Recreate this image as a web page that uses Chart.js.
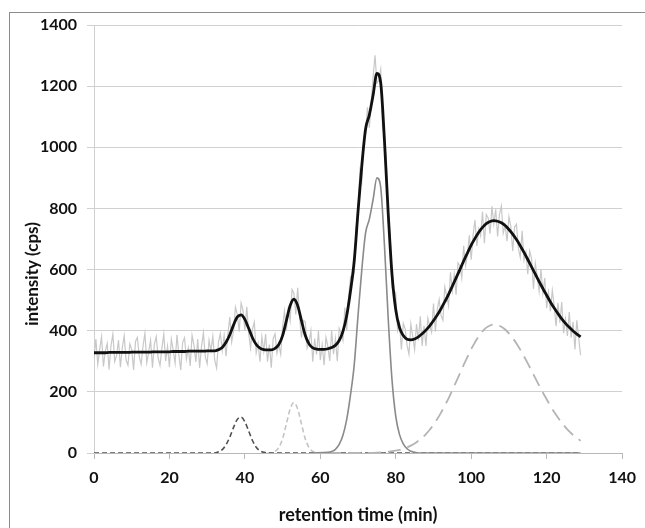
<!DOCTYPE html>
<html>
<head>
<meta charset="utf-8">
<script src="https://cdn.jsdelivr.net/npm/chart.js@4.4.1/dist/chart.umd.min.js"></script>
<style>
  html, body { margin: 0; padding: 0; background: #fff; overflow: hidden; }
  #wrap { position: relative; width: 645px; height: 528px; }
  #frame { position: absolute; left: 9px; top: 12px; width: 700px; height: 600px;
           border-left: 1px solid #8c8c8c; border-top: 1px solid #8c8c8c; }
  canvas { position: absolute; left: 0; top: 0; }
</style>
</head>
<body>
<div id="wrap">
  <div id="frame"></div>
  <canvas id="c" width="645" height="528"></canvas>
</div>
<script>
// ---- data ----
const xTicks = [0, 20, 40, 60, 80, 100, 120, 140];
const yTicks = [0, 200, 400, 600, 800, 1000, 1200, 1400];
const xTitle = "retention time (min)";
const yTitle = "intensity (cps)";

// raw measured signal, one value every 0.5 min from 0 to 129 min
const rawStep = 0.5;
const rawSignal = [
  308, 373, 290, 338, 380, 283, 333, 358, 273, 350, 389, 299, 319, 369, 281, 344, 384, 304, 287, 357,
  338, 272, 365, 378, 315, 290, 350, 392, 295, 330, 369, 279, 356, 381, 311, 286, 343, 389, 301, 349,
  281, 373, 337, 294, 387, 320, 272, 362, 377, 307, 343, 285, 385, 353, 298, 373, 278, 348, 393, 315,
  292, 369, 334, 382, 304, 278, 363, 391, 335, 385, 317, 389, 445, 363, 399, 477, 453, 397, 490, 467,
  402, 478, 393, 343, 405, 428, 327, 359, 299, 380, 333, 389, 299, 355, 279, 374, 390, 326, 355, 323,
  414, 464, 401, 470, 432, 535, 523, 453, 540, 446, 378, 434, 430, 343, 362, 400, 299, 374, 322, 399,
  304, 354, 287, 378, 349, 301, 400, 323, 374, 300, 408, 393, 368, 476, 402, 508, 575, 560, 592, 740,
  790, 923, 890, 1025, 1045, 1131, 1064, 1150, 1231, 1301, 1210, 1219, 1254, 1063, 1043, 954, 759, 720, 540, 532,
  523, 401, 425, 339, 424, 406, 352, 323, 422, 381, 338, 422, 368, 447, 350, 416, 350, 441, 416, 395,
  489, 397, 469, 502, 450, 434, 543, 515, 481, 591, 531, 585, 518, 622, 612, 572, 678, 613, 649, 712,
  632, 713, 762, 677, 732, 710, 790, 686, 780, 769, 717, 807, 750, 797, 708, 781, 808, 719, 744, 693,
  773, 742, 661, 739, 748, 670, 640, 727, 631, 657, 585, 661, 637, 537, 620, 578, 529, 602, 523, 572,
  474, 525, 464, 532, 482, 415, 491, 426, 494, 392, 439, 383, 461, 377, 429, 339, 434, 375, 320
];

// fitted total curve, one value per minute from 0 to 129 min
const fitStep = 1;
const fitCurve = [
  328, 328, 328, 328, 329, 329, 329, 329, 329, 329,
  330, 330, 330, 330, 330, 330, 331, 331, 331, 331,
  331, 332, 332, 332, 332, 333, 333, 333, 333, 333,
  334, 334, 334, 338, 345, 362, 387, 419, 445, 452,
  437, 408, 377, 355, 343, 338, 337, 337, 342, 355,
  384, 433, 482, 503, 482, 433, 385, 357, 344, 340,
  339, 339, 341, 345, 352, 368, 398, 450, 530, 630,
  790, 940, 1060, 1106, 1171, 1242, 1212, 1023, 784, 585,
  468, 410, 384, 372, 370, 373, 380, 390, 402, 416,
  433, 451, 472, 495, 519, 546, 573, 600, 628, 654,
  680, 702, 722, 738, 750, 757, 760, 758, 753, 744,
  731, 716, 698, 678, 656, 633, 609, 585, 561, 538,
  516, 494, 474, 456, 439, 424, 411, 399, 389, 380
];

// component peaks
const peak1Time = [0, 32, 33, 34, 35, 36, 37, 38, 39, 40, 41, 42, 43, 44, 45, 46, 129];
const peak1Vals = [0, 0, 4, 11, 27, 52, 84, 110, 117, 102, 72, 41, 19, 7, 2, 0, 0];

const peak2Time = [46, 47, 48, 49, 50, 51, 52, 53, 54, 55, 56, 57, 58, 59, 60];
const peak2Vals = [0, 0, 5, 18, 47, 95, 144, 165, 144, 95, 47, 18, 5, 1, 0];

const peak3Time = [58, 62, 63, 64, 65, 66, 67, 68, 69, 70, 71, 72, 73, 74, 75, 76, 77, 78, 79, 80, 81, 82, 83, 84, 85, 86, 129];
const peak3Vals = [0, 2, 5, 12, 28, 58, 110, 190, 290, 450, 600, 720, 765, 830, 900, 870, 680, 440, 240, 120, 60, 30, 14, 6, 2, 0, 0];

const peak4Time = [62, 72, 76, 78, 79, 80, 81, 82, 83, 84, 85, 86, 87, 88, 89, 90, 91, 92, 93, 94, 95, 96, 97, 98, 99,
  100, 101, 102, 103, 104, 105, 106, 107, 108, 109, 110, 111, 112, 113, 114, 115, 116, 117, 118, 119,
  120, 121, 122, 123, 124, 125, 126, 127, 128, 129];
const peak4Vals = [0, 0, 2, 4, 6, 8, 10, 14, 18, 24, 31, 40, 50, 62, 76, 93, 111, 132, 155, 179, 206, 233, 260, 288, 314,
  340, 362, 382, 398, 410, 417, 420, 418, 413, 404, 391, 376, 358, 338, 316, 293, 269, 245, 221, 198,
  176, 154, 134, 116, 99, 84, 71, 59, 49, 40];

// ---- build chart ----
const pts = (xs, ys) => ys.map((y, i) => ({ x: xs[i], y }));
const stepPts = (ys, step) => ys.map((y, i) => ({ x: i * step, y }));

const FONT = "Lato, 'Open Sans', 'DejaVu Sans', sans-serif";

const yTitlePlugin = {
  id: 'yTitle',
  afterDraw(chart) {
    const ctx = chart.ctx;
    ctx.save();
    ctx.translate(33, 274);
    ctx.rotate(-Math.PI / 2);
    ctx.font = "bold 17px " + FONT;
    ctx.fillStyle = '#111';
    ctx.textAlign = 'center';
    ctx.textBaseline = 'middle';
    ctx.fillText(yTitle, 0, 0);
    ctx.restore();
  }
};

new Chart(document.getElementById('c'), {
  type: 'line',
  data: {
    datasets: [
      { label: 'fit', data: stepPts(fitCurve, fitStep), borderColor: '#111', borderWidth: 2.8,
        cubicInterpolationMode: 'monotone', pointRadius: 0, order: 0 },
      { label: 'peak3', data: pts(peak3Time, peak3Vals), borderColor: '#8a8a8a', borderWidth: 1.6,
        cubicInterpolationMode: 'monotone', pointRadius: 0, order: 1 },
      { label: 'peak4', data: pts(peak4Time, peak4Vals), borderColor: '#b4b4b4', borderWidth: 1.8,
        borderDash: [13, 7], cubicInterpolationMode: 'monotone', pointRadius: 0, order: 2 },
      { label: 'peak1', data: pts(peak1Time, peak1Vals), borderColor: '#505050', borderWidth: 1.6,
        borderDash: [5, 3], cubicInterpolationMode: 'monotone', pointRadius: 0, order: 3 },
      { label: 'peak2', data: pts(peak2Time, peak2Vals), borderColor: '#c4c4c4', borderWidth: 1.6,
        borderDash: [5, 3], cubicInterpolationMode: 'monotone', pointRadius: 0, order: 4 },
      { label: 'raw', data: stepPts(rawSignal, rawStep), borderColor: '#c8c8c8', borderWidth: 1.2,
        tension: 0, pointRadius: 0, order: 5 }
    ]
  },
  options: {
    responsive: false,
    animation: false,
    events: [],
    layout: { padding: { left: 0, right: 18, top: 25, bottom: 0 } },
    plugins: { legend: { display: false }, tooltip: { enabled: false } },
    scales: {
      x: {
        type: 'linear', min: 0, max: 140,
        afterBuildTicks: (s) => { s.ticks = xTicks.map(v => ({ value: v })); },
        afterFit: (s) => { s.height = 75; },
        border: { color: '#b8b8b8', width: 1 },
        grid: { drawOnChartArea: false, drawTicks: true, tickLength: 6, color: '#b8b8b8' },
        ticks: { color: '#111', padding: 9, callback: (v) => String(v),
                 font: { family: FONT, size: 16, weight: 'bold' } },
        title: { display: true, text: xTitle, color: '#111', padding: { top: 0, bottom: 2 },
                 font: { family: FONT, size: 18, weight: 'bold' } }
      },
      y: {
        min: 0, max: 1400,
        afterBuildTicks: (s) => { s.ticks = yTicks.map(v => ({ value: v })); },
        afterFit: (s) => { s.width = 94; },
        border: { color: '#d0d0d0', width: 1 },
        grid: { color: '#d0d0d0', lineWidth: 1, drawTicks: true, tickLength: 7 },
        ticks: { color: '#111', padding: 10, callback: (v) => String(v),
                 font: { family: FONT, size: 16, weight: 'bold' } }
      }
    }
  },
  plugins: [yTitlePlugin]
});
</script>
</body>
</html>
